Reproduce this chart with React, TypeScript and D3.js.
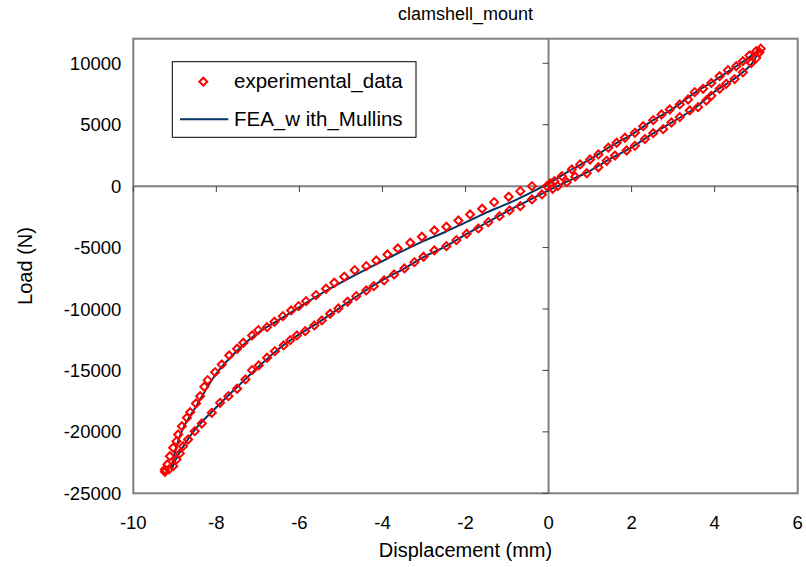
import React from "react";
import * as d3 from "d3";

const title = "clamshell_mount";
const xLabel = "Displacement (mm)";
const yLabel = "Load (N)";
const seriesNames = ["experimental_data", "FEA_w ith_Mullins"];
const xTicks = [-10, -8, -6, -4, -2, 0, 2, 4, 6];
const yTicks = [-25000, -20000, -15000, -10000, -5000, 0, 5000, 10000];

// experimental data, branch by branch (displacement mm, load N)
const expUpperPos: [number, number][] = [
  [-0.04, 0], [0.04, 220], [0.14, 407], [0.32, 810], [0.56, 1360], [0.76, 1770], [1.0, 2170],
  [1.2, 2580], [1.44, 3130], [1.64, 3530], [1.84, 3940], [2.08, 4340], [2.28, 4880],
  [2.52, 5370], [2.72, 5830], [2.92, 6240], [3.16, 6650], [3.36, 7050], [3.52, 7650],
  [3.72, 7920], [3.92, 8400], [4.12, 8950], [4.32, 9440], [4.52, 9760], [4.68, 10170],
  [4.84, 10630], [5.0, 10980], [5.11, 11190],
];
const expLowerPos: [number, number][] = [
  [5.08, 10900], [5.0, 10420], [4.88, 10020], [4.68, 9260], [4.48, 8710], [4.28, 8330],
  [4.12, 7920], [3.92, 7350], [3.8, 6970], [3.6, 6430], [3.4, 6160], [3.16, 5620],
  [2.96, 5180], [2.76, 4640], [2.52, 4310], [2.32, 3830], [2.08, 3280], [1.88, 2900],
  [1.6, 2490], [1.4, 2060], [1.2, 1540], [0.92, 1050], [0.64, 770], [0.44, 320],
  [0.22, 0], [0.1, -212],
];
const expLowerNeg: [number, number][] = [
  [-0.16, -676], [-0.4, -1083], [-0.68, -1628], [-0.94, -1978], [-1.18, -2442],
  [-1.45, -2930], [-1.69, -3443], [-1.97, -3875], [-2.22, -4396], [-2.46, -4884],
  [-2.75, -5234], [-3.01, -5747], [-3.23, -6187], [-3.47, -6699], [-3.72, -7188],
  [-3.96, -7676], [-4.21, -8140], [-4.39, -8490], [-4.63, -8954], [-4.84, -9410],
  [-5.06, -9955], [-5.26, -10387], [-5.46, -10932], [-5.64, -11339], [-5.86, -11803],
  [-6.06, -12153], [-6.22, -12536], [-6.38, -12967], [-6.59, -13431], [-6.78, -13968],
  [-6.98, -14595], [-7.14, -14977], [-7.3, -15734], [-7.5, -16490], [-7.71, -17093],
  [-7.91, -17636], [-8.11, -18450], [-8.35, -19319], [-8.52, -19946], [-8.68, -20621],
  [-8.8, -21164], [-8.88, -21756], [-8.96, -22245], [-9.04, -22791], [-9.14, -23050],
  [-9.24, -23250],
];
const expUpperNeg: [number, number][] = [
  [-9.24, -23061], [-9.18, -22654], [-9.12, -21979], [-9.04, -21295], [-8.96, -20758],
  [-8.92, -20213], [-8.83, -19538], [-8.71, -18854], [-8.63, -18398], [-8.49, -17690],
  [-8.39, -17096], [-8.29, -16331], [-8.21, -15791], [-8.03, -15140], [-7.87, -14513],
  [-7.69, -13781], [-7.5, -13236], [-7.35, -12747], [-7.14, -12153], [-6.99, -11722],
  [-6.78, -11477], [-6.6, -11038], [-6.4, -10582], [-6.2, -10118], [-6.02, -9768],
  [-5.84, -9361], [-5.6, -8873], [-5.36, -8352], [-5.16, -7863], [-4.92, -7375],
  [-4.67, -6837], [-4.39, -6512], [-4.15, -6048], [-3.88, -5560], [-3.63, -5071],
  [-3.33, -4607], [-3.05, -4119], [-2.75, -3606], [-2.46, -3305], [-2.17, -2792],
  [-1.89, -2303], [-1.6, -1840], [-1.31, -1302], [-0.96, -863], [-0.68, -407],
  [-0.4, 0],
];

// FEA curve, as one loop
const feaUpperPos: [number, number][] = [
  [0, 200], [0.5, 1250], [1.0, 2170], [1.5, 3250], [2.0, 4200], [2.5, 5330], [3.0, 6320],
  [3.5, 7550], [4.0, 8600], [4.5, 9720], [4.8, 10400], [5.05, 11000],
];
const feaLowerPos: [number, number][] = [
  [4.9, 10000], [4.5, 8800], [4.0, 7700], [3.5, 6300], [3.0, 5250], [2.5, 4250],
  [2.0, 3150], [1.5, 2250], [1.0, 1250], [0.5, 450], [0, -350],
];
const feaLowerNeg: [number, number][] = [
  [-0.5, -1200], [-1.0, -2050], [-1.5, -3000], [-2.0, -3950], [-2.5, -4950], [-3.0, -5750],
  [-3.5, -6750], [-4.0, -7650], [-4.5, -8700], [-5.0, -9850], [-5.5, -11000], [-6.0, -12050],
  [-6.5, -13250], [-7.0, -14750], [-7.5, -16350], [-8.0, -18000], [-8.5, -19750],
  [-8.8, -21200], [-9.0, -22400], [-9.08, -23100],
];
const feaUpperNeg: [number, number][] = [
  [-9.0, -21700], [-8.8, -19700], [-8.5, -18000], [-8.0, -15250], [-7.5, -13400],
  [-7.0, -11950], [-6.5, -10900], [-6.0, -9850], [-5.5, -8800], [-5.0, -7850],
  [-4.5, -6950], [-4.0, -6100], [-3.5, -5250], [-3.0, -4450], [-2.5, -3750],
  [-2.0, -2950], [-1.5, -2150], [-1.0, -1450], [-0.5, -650], [0, 200],
];

const W = 806;
const H = 567;
const M = { left: 133.3, right: 797.7, top: 38.7, bottom: 493.3 };
const FONT = "'Liberation Sans', Arial, sans-serif";

export default function App() {
  const x = d3.scaleLinear().domain([-10, 6]).range([M.left, M.right]);
  const y = d3.scaleLinear().domain([-25000, 12000]).range([M.bottom, M.top]);

  const expAll = [...expUpperPos, ...expLowerPos, ...expLowerNeg, ...expUpperNeg];
  const feaAll = [...feaUpperPos, ...feaLowerPos, ...feaLowerNeg, ...feaUpperNeg];
  const line = d3
    .line<[number, number]>()
    .x((d) => x(d[0]))
    .y((d) => y(d[1]))
    .curve(d3.curveCatmullRom.alpha(0.5));

  const x0 = x(0);
  const y0 = y(0);
  const diamond = (cx: number, cy: number, r: number) =>
    `M${cx},${cy - r}L${cx + r},${cy}L${cx},${cy + r}L${cx - r},${cy}Z`;

  const axisColor = "#808080";
  const tickColor = "#404040";
  const red = "#FF0000";
  const navy = "#003366";

  return (
    <svg
      width={W}
      height={H}
      style={{ position: "absolute", left: 0, top: 0, background: "#fff" }}
      fontFamily={FONT}
    >
      <rect x={0} y={0} width={W} height={H} fill="#fff" />
      {/* plot frame */}
      <rect
        x={M.left}
        y={M.top}
        width={M.right - M.left}
        height={M.bottom - M.top}
        fill="#fff"
        stroke={axisColor}
        strokeWidth={2}
      />
      {/* zero axes */}
      <line x1={M.left} x2={M.right} y1={y0} y2={y0} stroke={axisColor} strokeWidth={2} />
      <line x1={x0} x2={x0} y1={M.top} y2={M.bottom} stroke={axisColor} strokeWidth={2} />
      {xTicks.map((t) => (
        <line key={"xt" + t} x1={x(t)} x2={x(t)} y1={y0} y2={y0 + 6} stroke={tickColor} strokeWidth={1} />
      ))}
      {yTicks.map((t) => (
        <line key={"yt" + t} x1={x0 - 6} x2={x0} y1={y(t)} y2={y(t)} stroke={tickColor} strokeWidth={1} />
      ))}
      {/* tick labels */}
      {xTicks.map((t) => (
        <text key={"xl" + t} x={x(t)} y={M.bottom + 36} textAnchor="middle" fontSize={18.5} fill="#000">
          {t}
        </text>
      ))}
      {yTicks.map((t) => (
        <text key={"yl" + t} x={M.left - 12} y={y(t) + 6.5} textAnchor="end" fontSize={18.5} fill="#000">
          {t}
        </text>
      ))}
      {/* FEA line */}
      <path d={line(feaAll) || ""} fill="none" stroke={navy} strokeWidth={2} />
      {/* experimental markers */}
      {expAll.map((d, i) => (
        <path key={"m" + i} d={diamond(x(d[0]), y(d[1]), 4)} fill="none" stroke={red} strokeWidth={2} />
      ))}
      {/* titles */}
      <text x={(M.left + M.right) / 2} y={20} textAnchor="middle" fontSize={18} fill="#000">
        {title}
      </text>
      <text x={(M.left + M.right) / 2} y={557} textAnchor="middle" fontSize={20} fill="#000">
        {xLabel}
      </text>
      <text
        transform={`translate(32, ${(M.top + M.bottom) / 2}) rotate(-90)`}
        textAnchor="middle"
        fontSize={20}
        fill="#000"
      >
        {yLabel}
      </text>
      {/* legend */}
      <rect x={172.3} y={61.7} width={243.7} height={75.6} fill="#fff" stroke="#000" strokeWidth={1} />
      <path d={diamond(203.3, 81.7, 4)} fill="none" stroke={red} strokeWidth={2} />
      <text x={234} y={88} fontSize={20.5} fill="#000">
        {seriesNames[0]}
      </text>
      <line x1={180} x2={228.3} y1={119.3} y2={119.3} stroke={navy} strokeWidth={2} />
      <text x={234} y={126} fontSize={20.5} fill="#000">
        {seriesNames[1]}
      </text>
    </svg>
  );
}
